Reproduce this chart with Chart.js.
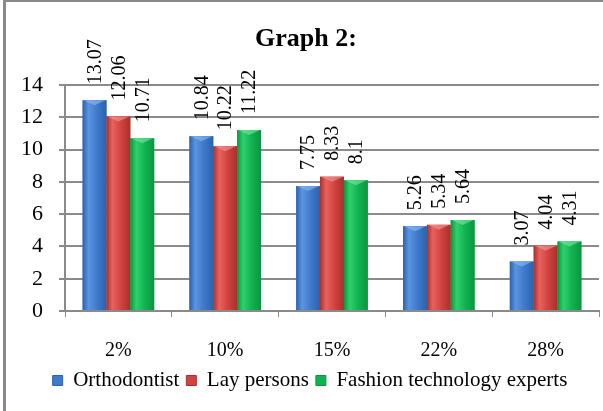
<!DOCTYPE html>
<html>
<head>
<meta charset="utf-8">
<script src="https://cdn.jsdelivr.net/npm/chart.js@4"></script>
<style>
  html, body { margin: 0; padding: 0; background: #fff; }
  #wrap { position: absolute; left: 0; top: 0; width: 603px; height: 411px; }
  #frame { position: absolute; left: 3px; top: 0; width: 610px; height: 420px; border-left: 3px solid #8a8a8a; border-top: 2px solid #8a8a8a; box-sizing: border-box; pointer-events: none; }
  canvas { position: absolute; left: 0; top: 0; }
</style>
</head>
<body>
<div id="wrap">
  <canvas id="c" width="603" height="411"></canvas>
  <div id="frame"></div>
</div>
<script>
const categories = ["2%", "10%", "15%", "22%", "28%"];
const seriesNames = ["Orthodontist", "Lay persons", "Fashion technology experts"];
const orthodontist = [13.07, 10.84, 7.75, 5.26, 3.07];
const layPersons = [12.06, 10.22, 8.33, 5.34, 4.04];
const fashionExperts = [10.71, 11.22, 8.1, 5.64, 4.31];
const yTicks = [0, 2, 4, 6, 8, 10, 12, 14];

const palettes = [
  { dark: "#2c62ae", light: "#5b95e0", mid: "#3f7acb", top: "#8cbcf4" },
  { dark: "#a8302c", light: "#e8625e", mid: "#d2433f", top: "#f59a96" },
  { dark: "#0a9640", light: "#2fd06c", mid: "#12b252", top: "#7ae8a4" }
];

const SERIF = "'Liberation Serif', 'Times New Roman', serif";

const shiftPlugin = {
  id: "shiftBlocks",
  afterLayout(chart) {
    if (chart.legend) { chart.legend.left += 9; chart.legend.right += 9; }
    if (chart.titleBlock) { chart.titleBlock.left += 5; chart.titleBlock.right += 5; }
  }
};

const gradientPlugin = {
  id: "barGradient",
  afterDatasetsDraw(chart) {
    const ctx = chart.ctx;
    chart.data.datasets.forEach((ds, di) => {
      const meta = chart.getDatasetMeta(di);
      const p = palettes[di];
      meta.data.forEach(el => {
        const l = el.x - el.width / 2, r = el.x + el.width / 2;
        const t = el.y, b = el.base;
        ctx.save();
        const g = ctx.createLinearGradient(l, 0, r, 0);
        g.addColorStop(0, p.dark);
        g.addColorStop(0.25, p.light);
        g.addColorStop(0.6, p.mid);
        g.addColorStop(1, p.dark);
        ctx.fillStyle = g;
        ctx.fillRect(l, t, r - l, b - t);
        ctx.globalAlpha = 0.6;
        ctx.fillStyle = p.top;
        ctx.beginPath();
        ctx.moveTo(l + 1, t);
        ctx.lineTo(r - 1, t);
        ctx.lineTo(el.x, t + 5);
        ctx.closePath();
        ctx.fill();
        ctx.restore();
      });
    });
  }
};

const labelPlugin = {
  id: "rotLabels",
  afterDatasetsDraw(chart) {
    const ctx = chart.ctx;
    ctx.save();
    ctx.fillStyle = "#000";
    ctx.font = "20px " + SERIF;
    ctx.textAlign = "left";
    ctx.textBaseline = "middle";
    chart.data.datasets.forEach((ds, di) => {
      const meta = chart.getDatasetMeta(di);
      meta.data.forEach((el, i) => {
        ctx.save();
        ctx.translate(el.x + 1, el.y - 16);
        ctx.rotate(-Math.PI / 2);
        ctx.fillText(String(ds.data[i]), 0, 0);
        ctx.restore();
      });
    });
    ctx.restore();
  }
};

const datasets = [orthodontist, layPersons, fashionExperts].map((d, i) => ({
  label: seriesNames[i],
  data: d,
  backgroundColor: palettes[i].mid,
  borderWidth: 0,
  categoryPercentage: 0.67,
  barPercentage: 1.0
}));

new Chart(document.getElementById("c"), {
  type: "bar",
  data: { labels: categories, datasets },
  plugins: [shiftPlugin, gradientPlugin, labelPlugin],
  options: {
    responsive: false,
    animation: false,
    devicePixelRatio: 1,
    layout: { padding: { left: 3, right: 4, top: 12, bottom: 10 } },
    plugins: {
      title: {
        display: true,
        text: "Graph 2:",
        color: "#000",
        font: { family: SERIF, size: 26, weight: "bold" },
        padding: { top: 12, bottom: 30 }
      },
      legend: {
        position: "bottom",
        labels: {
          color: "#000",
          font: { family: SERIF, size: 21 },
          boxWidth: 10,
          boxHeight: 10,
          padding: 7,
          generateLabels(chart) {
            return chart.data.datasets.map((ds, i) => ({
              text: ds.label,
              fillStyle: palettes[i].mid,
              strokeStyle: palettes[i].dark,
              lineWidth: 1,
              datasetIndex: i,
              hidden: false
            }));
          }
        }
      },
      tooltip: { enabled: false }
    },
    scales: {
      x: {
        afterFit(scale) { scale.height = 52; },
        grid: { display: true, drawOnChartArea: false, drawTicks: true, tickLength: 6, color: "#8a8a8a", offset: true },
        border: { display: true, color: "#8a8a8a", width: 2 },
        ticks: { color: "#000", font: { family: SERIF, size: 20 }, padding: 22 }
      },
      y: {
        min: 0,
        max: 14,
        afterBuildTicks(scale) { scale.ticks = yTicks.map(v => ({ value: v })); },
        afterFit(scale) { scale.width = 62; },
        grid: { color: "#8a8a8a", lineWidth: 2, tickLength: 6 },
        border: { display: true, color: "#8a8a8a", width: 2 },
        ticks: { color: "#000", font: { family: SERIF, size: 22 }, padding: 16 }
      }
    }
  }
});
</script>
</body>
</html>
